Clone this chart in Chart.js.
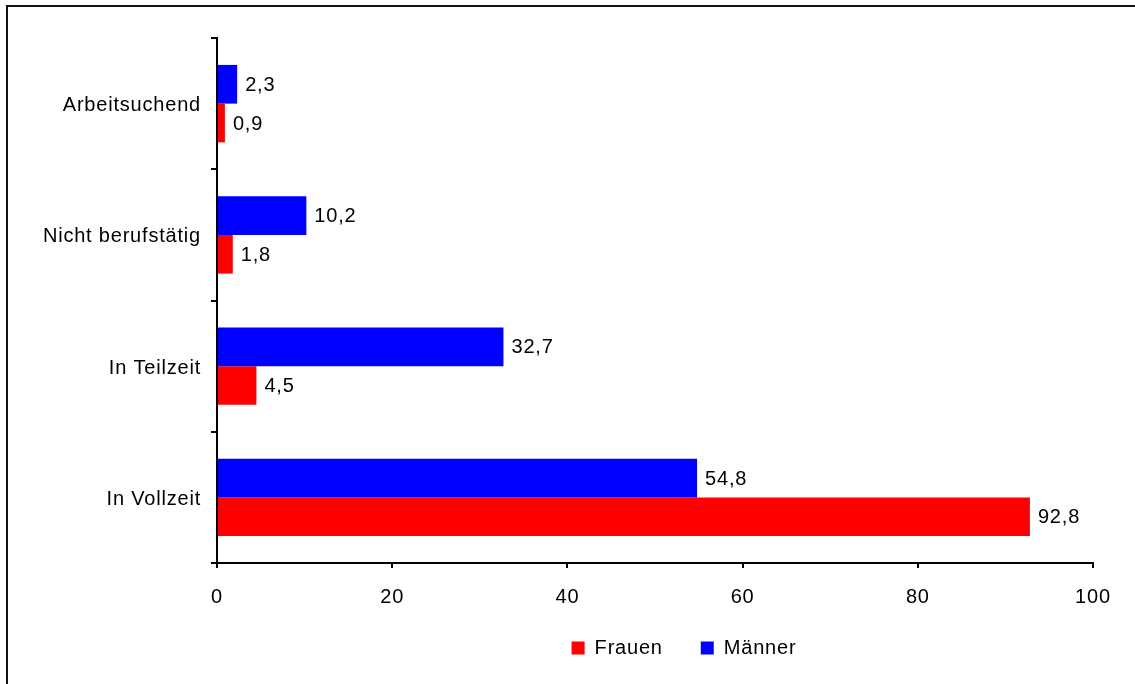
<!DOCTYPE html>
<html>
<head>
<meta charset="utf-8">
<script src="https://cdn.jsdelivr.net/npm/chart.js@4.4.1/dist/chart.umd.min.js"></script>
<style>
  html, body { margin: 0; padding: 0; background: #fff; overflow: hidden; }
  #frame { position: absolute; left: 6px; top: 5px; width: 1200px; height: 720px;
           border-top: 2px solid #111; border-left: 2px solid #111; }
  #wrap { position: absolute; left: 0; top: 0; width: 1135px; height: 684px; }
</style>
</head>
<body>
<div id="frame"></div>
<div id="wrap"><canvas id="employmentChart"></canvas></div>
<script>
// Categories, top to bottom
const categories = ['Arbeitsuchend', 'Nicht berufstätig', 'In Teilzeit', 'In Vollzeit'];
// Values in %
const maenner = [2.3, 10.2, 32.7, 54.8];
const frauen = [0.9, 1.8, 4.5, 92.8];
const xTickValues = [0, 20, 40, 60, 80, 100];

const FONT = { family: "'Liberation Sans', Arial, sans-serif", size: 20 };

// draws the value next to the end of each bar, with a decimal comma
const valueLabels = {
    id: 'valueLabels',
    afterDatasetsDraw(chart) {
        const ctx = chart.ctx;
        ctx.save();
        ctx.font = "20px 'Liberation Sans', Arial, sans-serif";
        ctx.fillStyle = '#000';
        ctx.textAlign = 'left';
        ctx.textBaseline = 'middle';
        chart.data.datasets.forEach((ds, i) => {
            chart.getDatasetMeta(i).data.forEach((bar, j) => {
                const txt = ds.data[j].toFixed(1).replace('.', ',');
                ctx.fillText(txt, bar.x + 8, bar.y + 1);
            });
        });
        ctx.restore();
    }
};

// slightly wider letter spacing like the original, and legend placement
const layoutTweaks = {
    id: 'layoutTweaks',
    beforeUpdate(chart) {
        chart.ctx.letterSpacing = '0.8px';
    },
    beforeDraw(chart) {
        chart.ctx.letterSpacing = '0.8px';
    },
    afterLayout(chart) {
        const lg = chart.legend;
        if (!lg) return;
        const shiftX = 684 - (lg.left + lg.right) / 2;
        lg.left += shiftX;
        lg.right += shiftX;
        const h = lg.height;
        lg.top = 600;
        lg.bottom = lg.top + h;
    }
};

const canvas = document.getElementById('employmentChart');
new Chart(canvas, {
    type: 'bar',
    data: {
        labels: categories,
        datasets: [{
            label: 'Männer',
            data: maenner,
            backgroundColor: '#0000ff',
            borderWidth: 0,
            categoryPercentage: 0.59,
            barPercentage: 1.0
        }, {
            label: 'Frauen',
            data: frauen,
            backgroundColor: '#ff0000',
            borderWidth: 0,
            categoryPercentage: 0.59,
            barPercentage: 1.0
        }]
    },
    options: {
        indexAxis: 'y',
        responsive: true,
        maintainAspectRatio: false,
        animation: false,
        layout: { padding: { left: 0, top: 38, right: 42, bottom: 0 } },
        plugins: {
            legend: {
                position: 'bottom',
                reverse: true,
                labels: {
                    boxWidth: 13,
                    boxHeight: 13,
                    padding: 38,
                    color: '#000',
                    font: FONT
                }
            },
            tooltip: { enabled: false },
            title: { display: false }
        },
        scales: {
            x: {
                min: 0,
                max: 100,
                afterBuildTicks: (scale) => {
                    scale.ticks = xTickValues.map(v => ({ value: v }));
                },
                afterFit: (scale) => { scale.height = 53; },
                grid: {
                    drawOnChartArea: false,
                    drawTicks: true,
                    tickLength: 5,
                    color: '#000',
                    lineWidth: 2
                },
                border: { display: true, color: '#000', width: 2 },
                ticks: { color: '#000', font: FONT, padding: 17, maxRotation: 0 }
            },
            y: {
                afterFit: (scale) => { scale.width = 217; },
                grid: {
                    drawOnChartArea: false,
                    drawTicks: true,
                    tickLength: 6,
                    color: '#000',
                    lineWidth: 2
                },
                border: { display: true, color: '#000', width: 2 },
                ticks: { color: '#000', font: FONT, padding: 10, labelOffset: 2 }
            }
        }
    },
    plugins: [valueLabels, layoutTweaks]
});
</script>
</body>
</html>
